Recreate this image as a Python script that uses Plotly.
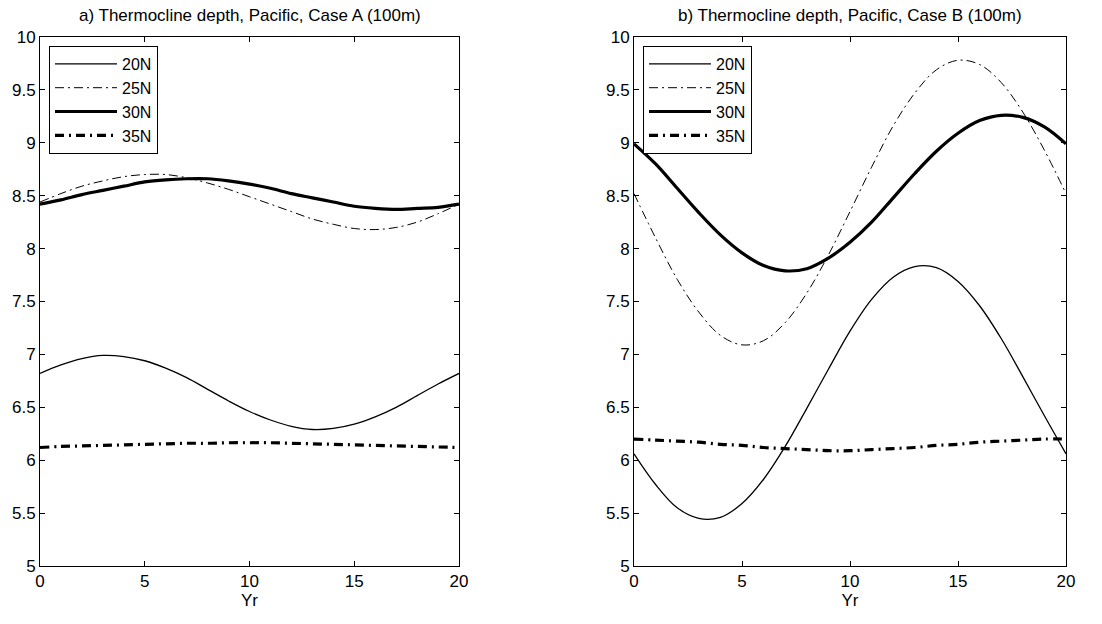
import plotly.graph_objects as go

years = list(range(0, 21))
series_names = ["20N", "25N", "30N", "35N"]

# Panel a) Case A
a_20N = [6.82, 6.90, 6.96, 6.99, 6.98, 6.94, 6.87, 6.78, 6.67, 6.56, 6.46,
         6.38, 6.32, 6.29, 6.30, 6.34, 6.41, 6.50, 6.61, 6.72, 6.82]
a_25N = [8.44, 8.52, 8.59, 8.64, 8.68, 8.70, 8.70, 8.67, 8.62, 8.56, 8.49,
         8.42, 8.35, 8.28, 8.23, 8.19, 8.18, 8.20, 8.25, 8.33, 8.42]
a_30N = [8.42, 8.46, 8.51, 8.55, 8.59, 8.63, 8.65, 8.66, 8.66, 8.64, 8.61,
         8.57, 8.52, 8.48, 8.44, 8.40, 8.38, 8.37, 8.38, 8.39, 8.42]
a_35N = [6.12, 6.13, 6.135, 6.14, 6.145, 6.15, 6.155, 6.16, 6.16, 6.165, 6.165,
         6.165, 6.16, 6.155, 6.15, 6.145, 6.14, 6.135, 6.13, 6.125, 6.12]

# Panel b) Case B
b_20N = [6.06, 5.77, 5.55, 5.45, 5.46, 5.59, 5.82, 6.13, 6.49, 6.86, 7.22,
         7.52, 7.73, 7.83, 7.82, 7.69, 7.46, 7.15, 6.79, 6.42, 6.06]
b_25N = [8.52, 8.10, 7.71, 7.40, 7.18, 7.09, 7.13, 7.30, 7.58, 7.94, 8.35,
         8.77, 9.16, 9.47, 9.69, 9.78, 9.74, 9.57, 9.29, 8.93, 8.52]
b_30N = [8.99, 8.80, 8.57, 8.34, 8.13, 7.96, 7.84, 7.79, 7.81, 7.91, 8.06,
         8.25, 8.48, 8.71, 8.92, 9.09, 9.21, 9.26, 9.24, 9.15, 8.99]
b_35N = [6.20, 6.19, 6.18, 6.17, 6.15, 6.14, 6.12, 6.11, 6.10, 6.09, 6.09,
         6.10, 6.11, 6.12, 6.14, 6.15, 6.17, 6.18, 6.19, 6.20, 6.20]

titles = ["a) Thermocline depth, Pacific, Case A (100m)",
          "b) Thermocline depth, Pacific, Case B (100m)"]
x_label = "Yr"
x_ticks = [0, 5, 10, 15, 20]
y_ticks = [5, 5.5, 6, 6.5, 7, 7.5, 8, 8.5, 9, 9.5, 10]

styles = {
    "20N": dict(width=1.3, dash="solid"),
    "25N": dict(width=1.0, dash="9px,4px,2px,4px"),
    "30N": dict(width=3.2, dash="solid"),
    "35N": dict(width=3.2, dash="9px,5px,2px,5px"),
}

FONT = "Liberation Sans, Arial, Helvetica, sans-serif"
FS = 17
LFS = 16
W, H = 1102, 624

fig = go.Figure()

panels = [
    (dict(zip(series_names, [a_20N, a_25N, a_30N, a_35N])), "x", "y", "legend"),
    (dict(zip(series_names, [b_20N, b_25N, b_30N, b_35N])), "x2", "y2", "legend2"),
]
for data, xa, ya, lg in panels:
    for name in series_names:
        st = styles[name]
        fig.add_trace(go.Scatter(
            x=years, y=data[name], mode="lines", name=name,
            line=dict(color="black", width=st["width"], dash=st["dash"], shape="spline", smoothing=1.0),
            xaxis=xa, yaxis=ya, legend=lg, showlegend=True,
        ))

x_doms = [[40 / W, 459 / W], [634 / W, 1066 / W]]
y_dom = [1 - 566 / H, 1 - 37 / H]

axis_common = dict(
    showline=True, linecolor="black", linewidth=1, mirror="ticks",
    ticks="inside", ticklen=5, tickwidth=1, tickcolor="black",
    showgrid=False, zeroline=False, automargin=False,
    tickfont=dict(family=FONT, size=FS, color="black"),
)

layout = dict(
    template="none",
    width=W, height=H, margin=dict(l=0, r=0, t=0, b=0, autoexpand=False),
    paper_bgcolor="white", plot_bgcolor="white",
    font=dict(family=FONT, size=FS, color="black"),
    showlegend=True,
)
for i, (xk, yk, yanchor, xanchor) in enumerate([("xaxis", "yaxis", "y", "x"), ("xaxis2", "yaxis2", "y2", "x2")]):
    layout[xk] = dict(axis_common, domain=x_doms[i], range=[0, 20], tickvals=x_ticks,
                      anchor=yanchor,
                      title=dict(text=x_label, font=dict(family=FONT, size=FS, color="black"), standoff=3))
    layout[yk] = dict(axis_common, domain=y_dom, range=[5, 10], tickvals=y_ticks,
                      anchor=xanchor)

legend_common = dict(
    bgcolor="white", bordercolor="black", borderwidth=1,
    font=dict(family=FONT, size=LFS, color="black"),
    xanchor="left", yanchor="top", traceorder="normal",
    tracegroupgap=0, itemwidth=62,
)
layout["legend"] = dict(legend_common, x=49 / W, y=1 - 46 / H)
layout["legend2"] = dict(legend_common, x=643 / W, y=1 - 46 / H)

annotations = []
for i, t in enumerate(titles):
    cx = (x_doms[i][0] + x_doms[i][1]) / 2
    annotations.append(dict(
        text=t, x=cx, y=1 - 15 / H, xref="paper", yref="paper",
        xanchor="center", yanchor="middle", showarrow=False,
        font=dict(family=FONT, size=FS, color="black"),
    ))
layout["annotations"] = annotations

fig.update_layout(**layout)
fig.write_html("out.html")
